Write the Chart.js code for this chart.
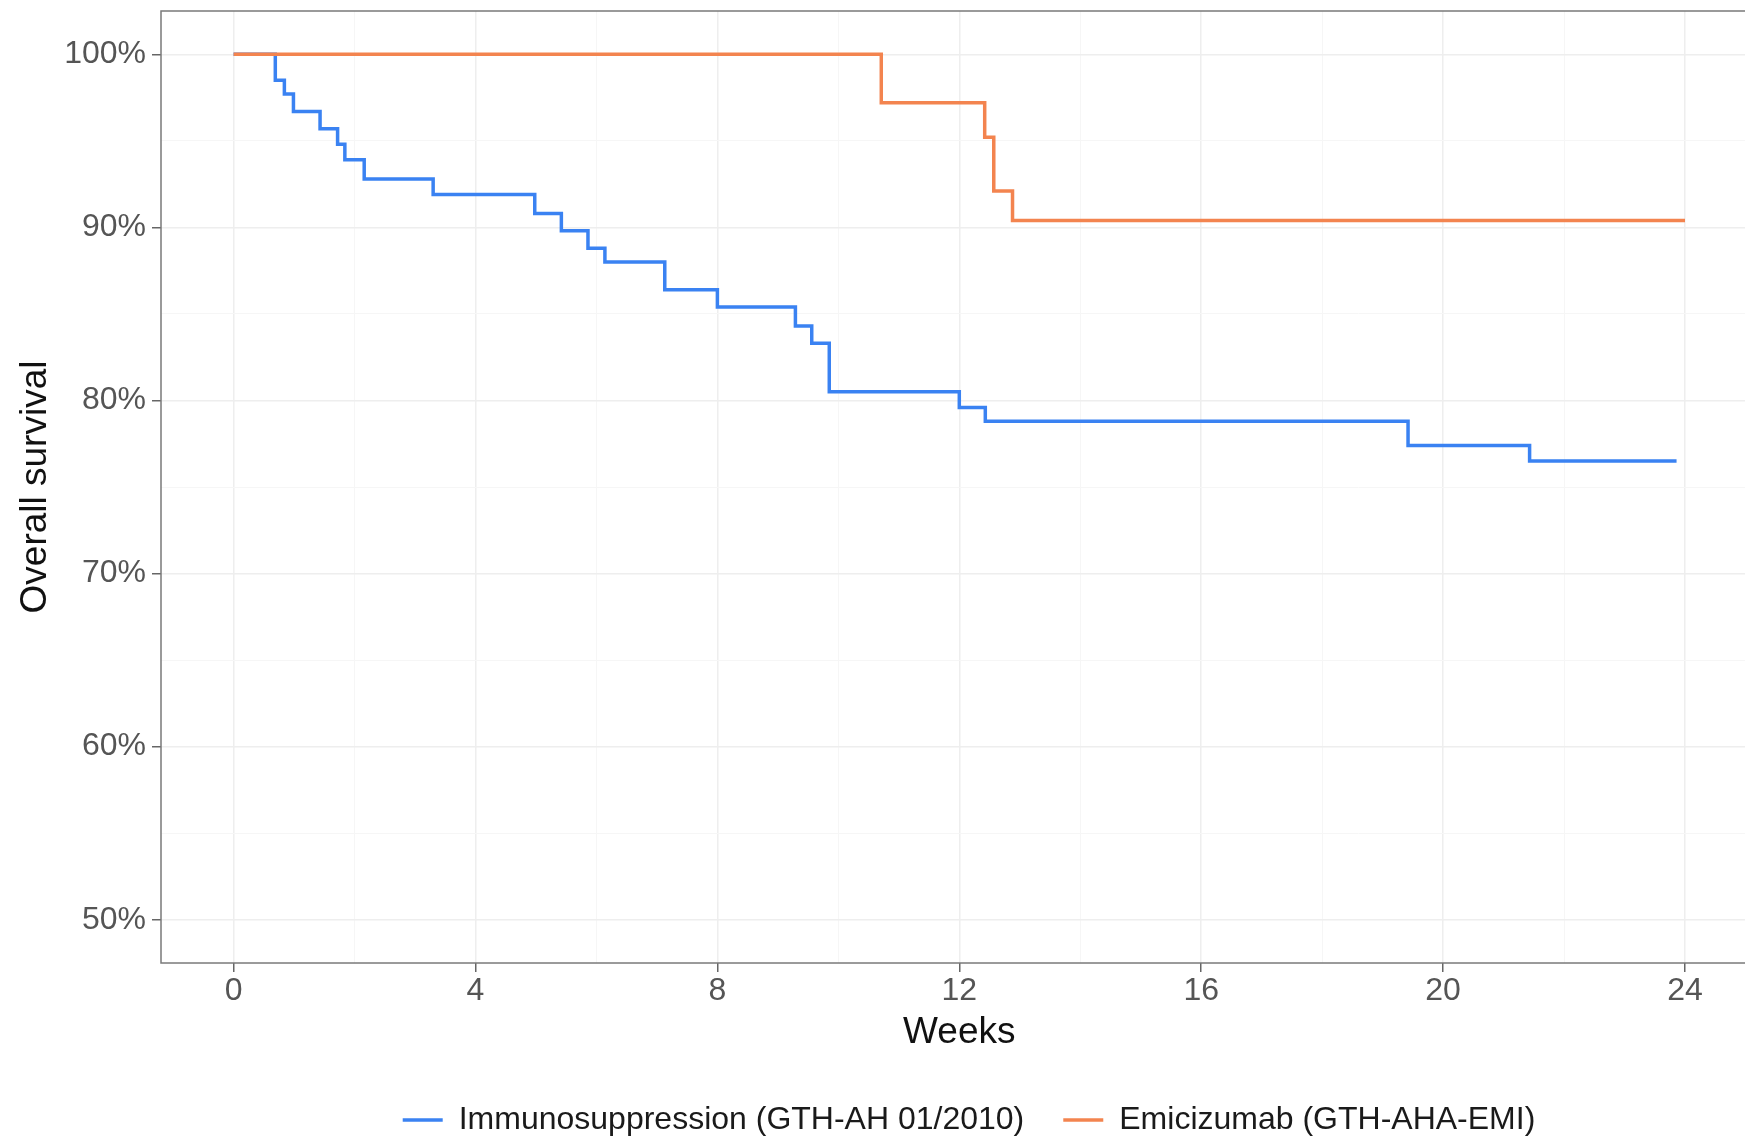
<!DOCTYPE html>
<html>
<head>
<meta charset="utf-8">
<script src="https://cdn.jsdelivr.net/npm/chart.js@4/dist/chart.umd.min.js"></script>
<style>
  html, body { margin: 0; padding: 0; background: #fff; overflow: hidden; }
</style>
</head>
<body>
<canvas id="survival" width="1938" height="1146"></canvas>
<script>
//immunosuppression arm (kaplan-meier steps)
const immunoWeeks = [0, 0.69, 0.84, 0.99, 1.43, 1.72, 1.84, 2.16, 3.30, 4.98, 5.42, 5.86, 6.14, 7.13, 8.00, 9.29, 9.56, 9.85, 12.00, 12.43, 19.42, 21.43, 23.86];
const immunoSurvival = [100, 98.5, 97.7, 96.7, 95.7, 94.8, 93.9, 92.8, 91.9, 90.8, 89.8, 88.8, 88.0, 86.4, 85.4, 84.3, 83.3, 80.5, 79.6, 78.8, 77.4, 76.5, 76.5];

//emicizumab arm
const emiWeeks = [0, 10.71, 12.42, 12.57, 12.88, 24.0];
const emiSurvival = [100, 97.2, 95.2, 92.1, 90.4, 90.4];

//axis ticks
const xMajorTicks = [0, 4, 8, 12, 16, 20, 24];
const xMinorTicks = [2, 6, 10, 14, 18, 22];
const yMajorTicks = [50, 60, 70, 80, 90, 100];
const yMinorTicks = [55, 65, 75, 85, 95];

const seriesLabels = ["Immunosuppression (GTH-AH 01/2010)", "Emicizumab (GTH-AHA-EMI)"];
const seriesColors = ["#3a82f2", "#f3844f"];

const FONT = "'Liberation Sans', Arial, sans-serif";

//set default values
Chart.defaults.font.family = FONT;
Chart.defaults.animation = false;

function toPoints(xs, ys) {
  return ys.map(function (value, index) {
    return { x: xs[index], y: value };
  });
}

function tickList(major, minor) {
  return major.concat(minor).sort((a, b) => a - b).map(v => ({ value: v }));
}

//grey box round the panel, like theme_bw
const panelBorder = {
  id: "panelBorder",
  afterDatasetsDraw(chart) {
    const { ctx, chartArea: a } = chart;
    ctx.save();
    ctx.strokeStyle = "#7a7a7a";
    ctx.lineWidth = 1.5;
    ctx.strokeRect(a.left, a.top, a.right - a.left, a.bottom - a.top);
    ctx.restore();
  },
};

let ctx = document.getElementById("survival").getContext("2d");

new Chart(ctx, {
  type: "line",
  data: {
    datasets: [
      {
        label: seriesLabels[0],
        data: toPoints(immunoWeeks, immunoSurvival),
        borderColor: seriesColors[0],
        backgroundColor: seriesColors[0],
        borderWidth: 3.5,
        stepped: "before",
        pointRadius: 0,
        order: 1,
      },
      {
        label: seriesLabels[1],
        data: toPoints(emiWeeks, emiSurvival),
        borderColor: seriesColors[1],
        backgroundColor: seriesColors[1],
        borderWidth: 3.5,
        stepped: "before",
        pointRadius: 0,
        order: 0,
      },
    ],
  },
  options: {
    responsive: false,
    layout: { padding: { top: 11, left: 0, right: 0, bottom: 0 } },
    plugins: {
      tooltip: { enabled: false },
      legend: {
        position: "bottom",
        labels: {
          usePointStyle: true,
          pointStyle: "line",
          pointStyleWidth: 40,
          padding: 39,
          color: "#1a1a1a",
          font: { size: 32, family: FONT },
          sort: (a, b) => a.datasetIndex - b.datasetIndex,
        },
      },
    },
    scales: {
      x: {
        type: "linear",
        min: -1.2,
        max: 25.2,
        afterBuildTicks: (s) => { s.ticks = tickList(xMajorTicks, xMinorTicks); },
        afterFit: (s) => { s.height = 102; s.paddingLeft = 0; s.paddingRight = 0; },
        border: { display: false },
        grid: {
          color: (c) => (xMajorTicks.includes(c.tick.value) ? "#eeeeee" : "#f6f6f6"),
          lineWidth: (c) => (xMajorTicks.includes(c.tick.value) ? 1.5 : 1),
          tickColor: (c) => (xMajorTicks.includes(c.tick.value) ? "#666" : "rgba(0,0,0,0)"),
          tickLength: 9,
          tickWidth: 1.5,
        },
        ticks: {
          autoSkip: false,
          maxRotation: 0,
          padding: 0,
          color: "#555",
          font: { size: 32 },
          callback: (v) => (xMajorTicks.includes(v) ? String(v) : ""),
        },
        title: {
          display: true,
          text: "Weeks",
          color: "#111",
          font: { size: 37 },
          padding: { top: 0, bottom: 10 },
        },
      },
      y: {
        type: "linear",
        min: 47.5,
        max: 102.5,
        afterBuildTicks: (s) => { s.ticks = tickList(yMajorTicks, yMinorTicks); },
        afterFit: (s) => { s.width = 161; s.paddingTop = 0; s.paddingBottom = 0; },
        border: { display: false },
        grid: {
          color: (c) => (yMajorTicks.includes(c.tick.value) ? "#eeeeee" : "#f6f6f6"),
          lineWidth: (c) => (yMajorTicks.includes(c.tick.value) ? 1.5 : 1),
          tickColor: (c) => (yMajorTicks.includes(c.tick.value) ? "#666" : "rgba(0,0,0,0)"),
          tickLength: 9,
          tickWidth: 1.5,
        },
        ticks: {
          autoSkip: false,
          padding: 6,
          color: "#555",
          font: { size: 32 },
          callback: (v) => (yMajorTicks.includes(v) ? v + "%" : ""),
        },
        title: {
          display: true,
          text: "Overall survival",
          color: "#111",
          font: { size: 37 },
          padding: { top: 14, bottom: 0 },
        },
      },
      //empty right axis: keeps the panel edge past the photo like the cropped original
      pad: {
        type: "linear",
        position: "right",
        afterFit: (s) => { s.width = 180.4; s.paddingTop = 0; s.paddingBottom = 0; },
        border: { display: false },
        grid: { display: false },
        ticks: { display: false },
      },
    },
  },
  plugins: [panelBorder],
});
</script>
</body>
</html>
